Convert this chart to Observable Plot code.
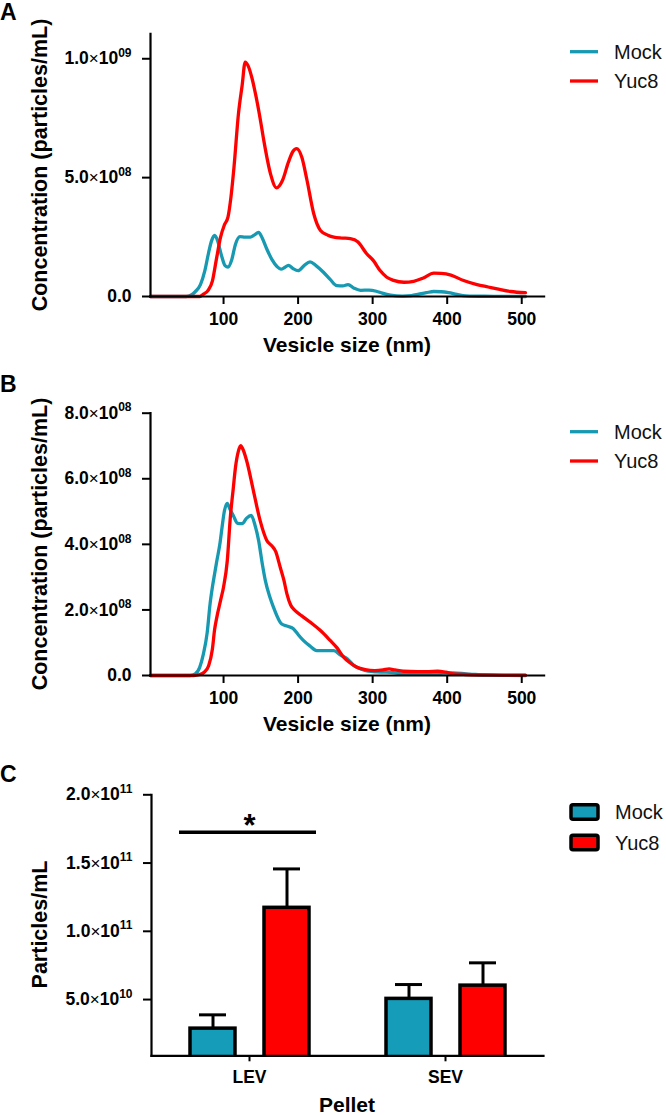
<!DOCTYPE html>
<html>
<head>
<meta charset="utf-8">
<script src="https://cdn.jsdelivr.net/npm/d3@7"></script>
<script src="https://cdn.jsdelivr.net/npm/@observablehq/plot@0.6"></script>
<style>
  html, body { margin: 0; padding: 0; background: #fff; }
  #wrap { position: relative; width: 666px; height: 1115px; overflow: hidden; background: #fff;
          font-family: "Liberation Sans", Arial, sans-serif; }
  .panel { position: absolute; left: 0; }
  #overlay { position: absolute; left: 0; top: 0; pointer-events: none; }
</style>
</head>
<body>
<div id="wrap"></div>
<script>
// ---------------- DATA ----------------
// Panel A – size distribution (nm) and concentration (particles/mL)
const mockA_size = [2, 50, 56, 62, 69, 75, 80, 84, 88, 92, 97, 102, 106, 111, 116, 122, 129, 136, 141, 147, 152, 158, 165, 172, 177, 182, 187, 193, 200, 208, 216, 224, 234, 243, 252, 260, 267, 275, 284, 295, 305, 313, 324, 340, 352, 362, 372, 382, 392, 402, 413, 425, 450, 505];
const mockA_conc = [0, 0, 0.05e8, 0.2e8, 0.5e8, 1.1e8, 1.85e8, 2.35e8, 2.57e8, 2.35e8, 1.75e8, 1.3e8, 1.24e8, 1.55e8, 2.2e8, 2.52e8, 2.5e8, 2.5e8, 2.58e8, 2.7e8, 2.45e8, 2.0e8, 1.55e8, 1.25e8, 1.15e8, 1.22e8, 1.31e8, 1.18e8, 1.09e8, 1.3e8, 1.46e8, 1.3e8, 1.02e8, 0.72e8, 0.46e8, 0.45e8, 0.5e8, 0.35e8, 0.26e8, 0.27e8, 0.22e8, 0.14e8, 0.06e8, 0.02e8, 0.04e8, 0.1e8, 0.16e8, 0.21e8, 0.2e8, 0.16e8, 0.09e8, 0.03e8, 0.01e8, 0];
const yucA_size = [2, 68, 73, 79, 85, 90, 96, 101, 106, 110, 114, 120, 125, 129, 133, 138, 143, 149, 154, 163, 171, 179, 187, 193, 198, 205, 212, 221, 230, 240, 248, 260, 270, 280, 292, 301, 310, 319, 328, 342, 355, 368, 382, 392, 405, 422, 440, 455, 467, 485, 505];
const yucA_conc = [0, 0, 0.1e8, 0.25e8, 0.65e8, 1.5e8, 2.5e8, 3.0e8, 3.35e8, 4.2e8, 5.44e8, 7.69e8, 8.9e8, 9.86e8, 9.7e8, 9.2e8, 8.5e8, 7.5e8, 6.56e8, 5.16e8, 4.57e8, 4.88e8, 5.65e8, 6.1e8, 6.22e8, 5.86e8, 4.88e8, 3.48e8, 2.78e8, 2.58e8, 2.5e8, 2.46e8, 2.43e8, 2.3e8, 1.8e8, 1.51e8, 1.09e8, 0.81e8, 0.68e8, 0.6e8, 0.64e8, 0.78e8, 0.98e8, 0.97e8, 0.9e8, 0.67e8, 0.5e8, 0.4e8, 0.32e8, 0.21e8, 0.16e8];

// Panel B
const mockB_size = [2, 55, 62, 68, 73, 78, 82, 85, 88, 91, 95, 98, 101, 105, 108, 113, 119, 125, 131, 137, 142, 147, 152, 156, 162, 167, 173, 178, 186, 194, 200, 207, 216, 225, 236, 248, 257, 266, 275, 284, 294, 305, 318, 330, 341, 375, 395, 408, 425, 437, 460, 505];
const mockB_conc = [0, 0, 0.05e8, 0.25e8, 0.66e8, 1.3e8, 2.2e8, 2.69e8, 3.1e8, 3.5e8, 4.0e8, 4.52e8, 5.0e8, 5.25e8, 5.1e8, 4.88e8, 4.64e8, 4.63e8, 4.8e8, 4.88e8, 4.6e8, 4.12e8, 3.4e8, 2.9e8, 2.4e8, 2.08e8, 1.75e8, 1.57e8, 1.5e8, 1.42e8, 1.25e8, 1.07e8, 0.9e8, 0.76e8, 0.76e8, 0.76e8, 0.62e8, 0.51e8, 0.3e8, 0.2e8, 0.13e8, 0.11e8, 0.1e8, 0.08e8, 0.05e8, 0.05e8, 0.07e8, 0.08e8, 0.05e8, 0.03e8, 0.01e8, 0];
const yucB_size = [2, 60, 68, 74, 80, 85, 88, 91, 96, 100, 105, 109, 113, 116, 120, 123, 126, 131, 140, 149, 158, 165, 170, 176, 181, 185, 190, 196, 205, 216, 230, 243, 252, 261, 270, 279, 290, 303, 314, 322, 330, 341, 360, 375, 387, 398, 408, 425, 450, 505];
const yucB_conc = [0, 0, 0.03e8, 0.1e8, 0.3e8, 0.8e8, 1.4e8, 1.78e8, 2.29e8, 2.7e8, 3.5e8, 4.8e8, 5.7e8, 6.35e8, 6.85e8, 7.01e8, 6.9e8, 6.55e8, 5.64e8, 4.73e8, 4.12e8, 3.95e8, 3.78e8, 3.3e8, 2.9e8, 2.49e8, 2.15e8, 1.98e8, 1.82e8, 1.63e8, 1.37e8, 1.07e8, 0.85e8, 0.56e8, 0.38e8, 0.25e8, 0.18e8, 0.15e8, 0.17e8, 0.2e8, 0.17e8, 0.13e8, 0.12e8, 0.12e8, 0.13e8, 0.1e8, 0.05e8, 0.03e8, 0.02e8, 0.01e8];

// Panel C – mean and upper error (mean + SEM)
const pellets = ["LEV", "SEV"];
const groups = ["Mock", "Yuc8"];
const mockC_mean = [2.87e10, 5.05e10];
const mockC_upper = [3.88e10, 6.1e10];
const yucC_mean = [1.172e11, 6.02e10];
const yucC_upper = [1.457e11, 7.69e10];
const sigPellet = ["LEV"];
const sigLevel = [1.726e11];
const sigLabel = ["*"];

// Axis ticks
const xTicks = [100, 200, 300, 400, 500];
const yTicksA = [0, 5e8, 1e9];
const yTicksB = [0, 2e8, 4e8, 6e8, 8e8];
const yTicksC = [5e10, 1e11, 1.5e11, 2e11];
const xDomain = [2, 530];
const yDomainA = [0, 1.105e9];
const yDomainB = [0, 8e8];
const yDomainC = [8.8e9, 2e11];

// ---------------- STYLE ----------------
const tealLine = "#1799b1";
const tealBar = "#149cb8";
const red = "#ff0000";
const FONT = '"Liberation Sans", Arial, sans-serif';

function sciLabel(v) {
  if (v === 0) return "0.0";
  const e = Math.floor(Math.log10(v) + 1e-9);
  const m = v / Math.pow(10, e);
  return m.toFixed(1) + "×10^" + String(e).padStart(2, "0");
}

function superscript(svg) {
  d3.select(svg).selectAll("text").each(function () {
    const t = this.textContent;
    const m = t.match(/^(.*)×10\^(\d+)$/);
    if (!m) return;
    const sel = d3.select(this);
    sel.text(null);
    sel.append("tspan").text(m[1]);
    sel.append("tspan").attr("font-weight", "normal").attr("font-size", "17px").text("×");
    sel.append("tspan").text("10");
    sel.append("tspan").attr("font-size", "12px").attr("dy", "-0.62em").text(m[2]);
  });
}

const toRows = (xs, ys) => xs.map((x, i) => ({size: x, conc: ys[i]}));

const wrap = document.getElementById("wrap");
function place(node, top) {
  const d = document.createElement("div");
  d.className = "panel";
  d.style.top = top + "px";
  d.appendChild(node);
  wrap.appendChild(d);
}

const baseStyle = {fontFamily: FONT, fontSize: "17.5px", fontWeight: "bold", color: "#000", background: "transparent", overflow: "visible"};

function linePanel(mock, yuc, yDomain, yTicks, marginTop, marginBottom) {
  return Plot.plot({
    width: 666, height: 340,
    marginLeft: 150, marginRight: 122.4, marginTop, marginBottom,
    style: baseStyle,
    x: {domain: xDomain},
    y: {domain: yDomain},
    marks: [
      Plot.lineY(mock, {x: "size", y: "conc", stroke: tealLine, strokeWidth: 3.3, curve: "monotone-x", strokeLinejoin: "round"}),
      Plot.lineY(yuc, {x: "size", y: "conc", stroke: red, strokeWidth: 3.3, curve: "monotone-x", strokeLinejoin: "round"}),
      Plot.frame({anchor: "left", strokeWidth: 2.2}),
      Plot.frame({anchor: "bottom", strokeWidth: 2.2}),
      Plot.axisX({ticks: xTicks, tickSize: 8, tickPadding: 8, strokeWidth: 2, label: null, tickFormat: d => String(d)}),
      Plot.axisY({ticks: yTicks, tickSize: 8, tickPadding: 11, strokeWidth: 2, label: null, tickFormat: sciLabel})
    ]
  });
}

// Panel A
const plotA = linePanel(toRows(mockA_size, mockA_conc), toRows(yucA_size, yucA_conc), yDomainA, yTicksA, 33.3, 44);
superscript(plotA);
place(plotA, 0);

// Panel B
const plotB = linePanel(toRows(mockB_size, mockB_conc), toRows(yucB_size, yucB_conc), yDomainB, yTicksB, 32.7, 45);
superscript(plotB);
place(plotB, 380);

// Panel C
const bars = [];
pellets.forEach((p, i) => {
  bars.push({pellet: p, group: groups[0], mean: mockC_mean[i], upper: mockC_upper[i]});
  bars.push({pellet: p, group: groups[1], mean: yucC_mean[i], upper: yucC_upper[i]});
});
const sig = sigPellet.map((p, i) => ({pellet: p, level: sigLevel[i], label: sigLabel[i]}));

const plotC = Plot.plot({
  width: 666, height: 340,
  marginLeft: 150, marginRight: 122.4, marginTop: 34.3, marginBottom: 44.7,
  style: baseStyle,
  fx: {domain: pellets, padding: 0, label: null},
  x: {domain: groups, paddingInner: 0.395, paddingOuter: 0.52, axis: null},
  y: {domain: yDomainC},
  color: {domain: groups, range: [tealBar, red]},
  marks: [
    Plot.ruleX(bars, {fx: "pellet", x: "group", y1: "mean", y2: "upper", stroke: "#000", strokeWidth: 3}),
    Plot.tickY(bars, {fx: "pellet", x: "group", y: "upper", stroke: "#000", strokeWidth: 3, insetLeft: 9, insetRight: 9}),
    Plot.barY(bars, {fx: "pellet", x: "group", y: "mean", fill: "group", stroke: "#000", strokeWidth: 3.5, clip: true}),
    Plot.ruleY(sig, {fx: "pellet", y: "level", stroke: "#000", strokeWidth: 3.5, insetLeft: 28, insetRight: 31}),
    Plot.text(sig, {fx: "pellet", y: "level", text: "label", fontSize: 31, fontWeight: "bold", lineAnchor: "bottom", dy: 4}),
    Plot.frame({anchor: "left", facet: "super", strokeWidth: 2.2}),
    Plot.frame({anchor: "bottom", facet: "super", strokeWidth: 2.2}),
    Plot.axisY({ticks: yTicksC, tickSize: 8, tickPadding: 11, strokeWidth: 2, label: null, tickFormat: sciLabel}),
    Plot.axisFx({anchor: "bottom", tickSize: 6, tickPadding: 9, strokeWidth: 2, label: null})
  ]
});
superscript(plotC);
place(plotC, 760);

// ---------------- OVERLAY: panel letters, axis titles, legends ----------------
const ov = d3.select(wrap).append("svg").attr("id", "overlay")
  .attr("width", 666).attr("height", 1115)
  .attr("font-family", FONT);

const letters = [{t: "A", y: 20}, {t: "B", y: 391.5}, {t: "C", y: 781.5}];
letters.forEach(l => ov.append("text").attr("x", 0).attr("y", l.y)
  .attr("font-size", 23).attr("font-weight", "bold").text(l.t));

const xTitles = [{t: "Vesicle size (nm)", y: 352}, {t: "Vesicle size (nm)", y: 731}, {t: "Pellet", y: 1112}];
xTitles.forEach(l => ov.append("text").attr("x", 347).attr("y", l.y)
  .attr("text-anchor", "middle").attr("font-size", 21).attr("font-weight", "bold").text(l.t));

const yTitles = [{t: "Concentration (particles/mL)", c: 165}, {t: "Concentration (particles/mL)", c: 544}, {t: "Particles/mL", c: 924.5}];
yTitles.forEach(l => ov.append("text")
  .attr("transform", `translate(46.7,${l.c}) rotate(-90)`)
  .attr("text-anchor", "middle").attr("font-size", 21.5).attr("font-weight", "bold").text(l.t));

// line legends (A, B)
const lineLegends = [[51.7, 81], [431.7, 461]];
const legendColors = [tealLine, red];
lineLegends.forEach(rows => rows.forEach((y, i) => {
  ov.append("line").attr("x1", 570).attr("x2", 598).attr("y1", y).attr("y2", y)
    .attr("stroke", legendColors[i]).attr("stroke-width", 3.3);
  ov.append("text").attr("x", 614).attr("y", y).attr("dominant-baseline", "central")
    .attr("font-size", 20).attr("fill", "#111").text(groups[i]);
}));
// bar legend (C)
const barLegendColors = [tealBar, red];
[812, 842.5].forEach((y, i) => {
  ov.append("rect").attr("x", 571).attr("y", y - 7.2).attr("width", 27).attr("height", 14.4)
    .attr("rx", 2).attr("fill", barLegendColors[i]).attr("stroke", "#000").attr("stroke-width", 3.5);
  ov.append("text").attr("x", 615).attr("y", y).attr("dominant-baseline", "central")
    .attr("font-size", 20).attr("fill", "#111").text(groups[i]);
});
</script>
</body>
</html>
